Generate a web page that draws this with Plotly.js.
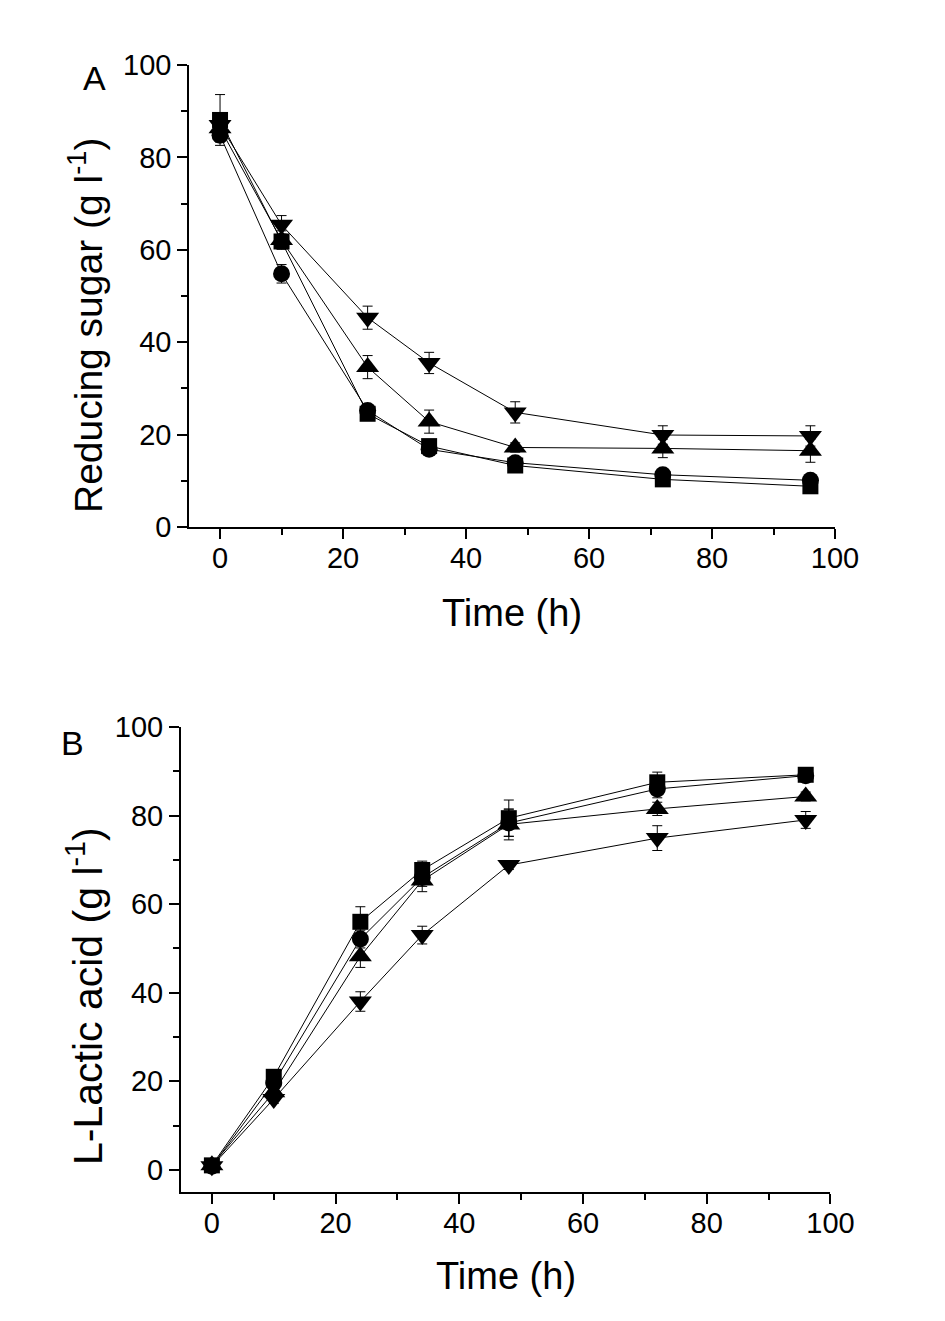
<!DOCTYPE html>
<html>
<head>
<meta charset="utf-8">
<script src="https://cdn.plot.ly/plotly-3.0.1.min.js"></script>
<style>html,body{margin:0;padding:0;background:#fff;}#chart{width:945px;height:1321px;}</style>
</head>
<body>
<div id="chart"></div>
<script>
// Sampling times (h)
const time = [0, 10, 24, 34, 48, 72, 96];

// Panel A: reducing sugar (g/l)
const sugarSquare = [88.1, 61.8, 24.5, 17.5, 13.3, 10.3, 8.8];
const sugarCircle = [84.8, 54.8, 25.2, 16.8, 13.9, 11.3, 10.1];
const sugarUp     = [86.3, 62.1, 34.6, 22.8, 17.2, 17.0, 16.5];
const sugarDown   = [87.0, 65.4, 45.3, 35.5, 24.8, 19.9, 19.7];
const sugarSquareErr = [5.5, 1.5, 1.0, 1.0, 0.8, 0.8, 0.8];
const sugarCircleErr = [1.5, 2.0, 1.0, 1.0, 1.0, 1.0, 0.8];
const sugarUpErr     = [1.5, 2.0, 2.5, 2.5, 1.0, 2.0, 2.5];
const sugarDownErr   = [1.5, 2.0, 2.5, 2.3, 2.3, 2.0, 2.2];

// Panel B: L-lactic acid (g/l)
const lacticSquare = [1.0, 21.0, 56.0, 67.7, 79.4, 87.5, 89.2];
const lacticCircle = [0.8, 19.6, 52.1, 66.0, 78.3, 86.0, 89.0];
const lacticUp     = [1.0, 17.5, 48.2, 65.3, 78.0, 81.5, 84.3];
const lacticDown   = [0.8, 16.0, 38.0, 53.0, 68.8, 74.9, 79.0];
const lacticSquareErr = [0.5, 1.0, 3.4, 2.0, 4.1, 2.3, 1.0];
const lacticCircleErr = [0.5, 1.0, 2.0, 2.0, 3.0, 2.0, 1.0];
const lacticUpErr     = [0.5, 1.0, 2.5, 2.5, 3.5, 1.5, 1.0];
const lacticDownErr   = [0.5, 1.0, 2.2, 2.0, 1.0, 2.8, 1.9];

// Tick values
const xTicks = [0, 20, 40, 60, 80, 100];
const yTicks = [0, 20, 40, 60, 80, 100];

function series(y, err, symbol, size, xa, ya) {
  return {
    x: time, y: y, xaxis: xa, yaxis: ya,
    type: 'scatter', mode: 'lines+markers',
    line: {color: '#000', width: 1},
    marker: {symbol: symbol, size: size, color: '#000', line: {width: 0}},
    error_y: {type: 'data', array: err, visible: true, color: '#000', thickness: 1, width: 5},
    showlegend: false, cliponaxis: false
  };
}

const data = [
  series(sugarCircle, sugarCircleErr, 'circle', 17, 'x', 'y'),
  series(sugarUp, sugarUpErr, 'triangle-up', 20, 'x', 'y'),
  series(sugarDown, sugarDownErr, 'triangle-down', 20, 'x', 'y'),
  series(sugarSquare, sugarSquareErr, 'square', 16, 'x', 'y'),
  series(lacticCircle, lacticCircleErr, 'circle', 17, 'x2', 'y2'),
  series(lacticUp, lacticUpErr, 'triangle-up', 20, 'x2', 'y2'),
  series(lacticDown, lacticDownErr, 'triangle-down', 20, 'x2', 'y2'),
  series(lacticSquare, lacticSquareErr, 'square', 16, 'x2', 'y2')
];

const FONT = 'Arial, "Liberation Sans", sans-serif';

function axis(extra) {
  return Object.assign({
    showline: true, linecolor: '#000', linewidth: 2,
    ticks: 'outside', ticklen: 10, tickwidth: 2, tickcolor: '#000',
    tickmode: 'array',
    showgrid: false, zeroline: false, mirror: false,
    tickfont: {family: FONT, size: 29, color: '#000'},
    minor: {ticks: 'outside', ticklen: 6, tickwidth: 2, tickcolor: '#000', dtick: 10, tick0: 0, showgrid: false},
    fixedrange: true
  }, extra);
}

const layout = {
  width: 945, height: 1321,
  margin: {l: 0, r: 0, t: 0, b: 0},
  paper_bgcolor: '#fff', plot_bgcolor: '#fff',
  font: {family: FONT, color: '#000'},
  showlegend: false,
  xaxis: axis({domain: [0.2003, 0.8836], range: [-5, 100], anchor: 'y', tickvals: xTicks, ticktext: xTicks.map(String), ticklabelstandoff: -6}),
  yaxis: axis({domain: [0.6011, 0.9508], range: [0, 100], anchor: 'x', tickvals: yTicks, ticktext: yTicks.map(String)}),
  xaxis2: axis({domain: [0.1915, 0.8788], range: [-5, 100], anchor: 'y2', tickvals: xTicks, ticktext: xTicks.map(String), ticklabelstandoff: -6}),
  yaxis2: axis({domain: [0.0977, 0.4497], range: [-5, 100], anchor: 'x2', tickvals: yTicks, ticktext: yTicks.map(String)}),
  annotations: [
    {text: 'Time (h)', xref: 'paper', yref: 'paper', x: 512/945, y: 1 - 613/1321, xanchor: 'center', yanchor: 'middle', showarrow: false, font: {family: FONT, size: 38, color: '#000'}},
    {text: 'Time (h)', xref: 'paper', yref: 'paper', x: 506/945, y: 1 - 1276/1321, xanchor: 'center', yanchor: 'middle', showarrow: false, font: {family: FONT, size: 38, color: '#000'}},
    {text: 'Reducing sugar (g l<sup>-1</sup>)', xref: 'paper', yref: 'paper', x: 86/945, y: 1 - 326/1321, xanchor: 'center', yanchor: 'middle', textangle: -90, showarrow: false, font: {family: FONT, size: 39, color: '#000'}},
    {text: 'L-Lactic acid (g l<sup>-1</sup>)', xref: 'paper', yref: 'paper', x: 85/945, y: 1 - 996/1321, xanchor: 'center', yanchor: 'middle', textangle: -90, showarrow: false, font: {family: FONT, size: 41, color: '#000'}},
    {text: 'A', xref: 'paper', yref: 'paper', x: 94/945, y: 1 - 78/1321, xanchor: 'center', yanchor: 'middle', showarrow: false, font: {family: FONT, size: 34, color: '#000'}},
    {text: 'B', xref: 'paper', yref: 'paper', x: 72/945, y: 1 - 743/1321, xanchor: 'center', yanchor: 'middle', showarrow: false, font: {family: FONT, size: 34, color: '#000'}}
  ]
};

Plotly.newPlot('chart', data, layout, {displayModeBar: false, staticPlot: true});
</script>
</body>
</html>
